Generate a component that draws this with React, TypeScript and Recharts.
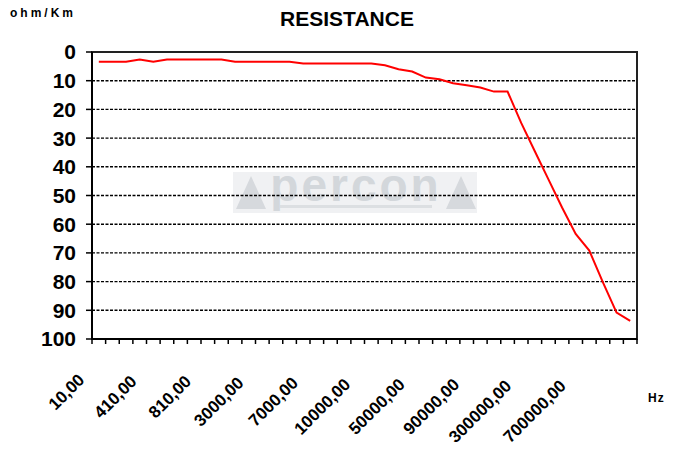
import React from 'react'
import { LineChart, Line, XAxis, YAxis, CartesianGrid, ReferenceArea } from 'recharts'

// frequency categories (Hz), only every 4th one is labelled on the axis
const freqs = [
  10, 110, 210, 310, 410, 510, 610, 710, 810, 910,
  1000, 2000, 3000, 4000, 5000, 6000, 7000, 8000, 9000, 9500,
  10000, 20000, 30000, 40000, 50000, 60000, 70000, 80000, 90000, 100000,
  150000, 200000, 300000, 400000, 500000, 600000, 700000, 800000, 900000, 1000000,
]

// resistance in ohm/Km
const resistance = [
  3.4, 3.4, 3.4, 2.6, 3.4, 2.6, 2.6, 2.6, 2.6, 2.6,
  3.4, 3.4, 3.4, 3.4, 3.4, 4.0, 4.0, 4.0, 4.0, 4.0,
  4.0, 4.6, 6.0, 6.8, 8.9, 9.5, 10.9, 11.6, 12.4, 13.8,
  13.8, 24.7, 34.6, 44.4, 54.2, 63.4, 69.2, 80.3, 90.8, 93.7,
]

const yTicks = [0, 10, 20, 30, 40, 50, 60, 70, 80, 90, 100]
const LABEL_EVERY = 4

const data = freqs.map((f, i) => ({ f, r: resistance[i] }))

const FONT = 'Liberation Sans, Arial, sans-serif'

const fmt = (v: number) => v.toFixed(2).replace('.', ',')

// tick marks sit on the category boundaries (Excel style), labels every 4th category
function FreqTick(props: any) {
  const { x, y, payload, index } = props
  const half = payload.offset || 0
  const last = index === freqs.length - 1
  let text = null
  if (index % LABEL_EVERY === 0) {
    const label = fmt(payload.value)
    const n = label.length
    const ax = x - 2 - 2.25 * n
    const ay = y + 42 + 1.5 * (n - 5)
    text = (
      <text
        x={ax}
        y={ay}
        textAnchor="end"
        transform={`rotate(-45, ${ax}, ${ay})`}
        fontFamily={FONT}
        fontWeight="bold"
        fontSize={17}
        fill="#000"
      >
        {label}
      </text>
    )
  }
  return (
    <g>
      <line x1={x - half} x2={x - half} y1={y} y2={y + 5} stroke="#000" strokeWidth={1.5} />
      {last && <line x1={x + half} x2={x + half} y1={y} y2={y + 5} stroke="#000" strokeWidth={1.5} />}
      {text}
    </g>
  )
}

function Watermark() {
  return (
    <g>
      <rect x={233} y={172} width={244} height={41} fill="#f0f1f3" />
      <polygon points="236,209 251,176 266,209" fill="#d6d9dd" />
      <polygon points="446,209 461,176 476,209" fill="#d6d9dd" />
      <text x={356} y={201} textAnchor="middle" fontFamily={FONT} fontWeight="bold" fontSize={46} fill="#d3d7db" letterSpacing={3}>
        percon
      </text>
      <rect x={280} y={205} width={152} height={3} fill="#dcdfe2" />
    </g>
  )
}

export default function App() {
  return (
    <div style={{ position: 'absolute', left: 0, top: 0, width: 677, height: 452, background: '#fff' }}>
      <svg width={677} height={452} style={{ position: 'absolute', left: 0, top: 0 }}>
        <text x={10} y={17} fontFamily={FONT} fontWeight="bold" fontSize={12} letterSpacing={3} fill="#000">
          ohm/Km
        </text>
        <text x={347} y={26} textAnchor="middle" fontFamily={FONT} fontWeight="bold" fontSize={21} fill="#000">
          RESISTANCE
        </text>
        <text x={648} y={402} fontFamily={FONT} fontWeight="bold" fontSize={12} letterSpacing={1} fill="#000">
          Hz
        </text>
        <Watermark />
      </svg>
      <div style={{ position: 'absolute', left: 0, top: 0 }}>
        <LineChart width={677} height={452} data={data} margin={{ top: 52, right: 40, bottom: 0, left: 0 }}>
          <XAxis
            xAxisId="labels"
            dataKey="f"
            type="category"
            scale="band"
            interval={0}
            axisLine={{ stroke: '#000', strokeWidth: 2 }}
            tickLine={false}
            tickSize={0}
            tickMargin={0}
            height={113}
            tick={<FreqTick />}
          />
          <YAxis
            yAxisId="v"
            type="number"
            domain={[0, 100]}
            reversed
            ticks={yTicks}
            interval={0}
            width={92}
            tickSize={6}
            tickMargin={10}
            axisLine={{ stroke: '#000', strokeWidth: 2 }}
            tickLine={{ stroke: '#000', strokeWidth: 1.5 }}
            tick={{ fill: '#000', fontFamily: FONT, fontWeight: 'bold', fontSize: 21 }}
          />
          <CartesianGrid
            xAxisId="labels"
            yAxisId="v"
            vertical={false}
            stroke="#000"
            strokeWidth={1.4}
            strokeDasharray="3 1.5"
          />
          <ReferenceArea
            xAxisId="labels"
            yAxisId="v"
            y1={0}
            y2={100}
            fill="none"
            stroke="#222"
            strokeWidth={2}
            ifOverflow="visible"
          />
          <Line
            xAxisId="labels"
            yAxisId="v"
            type="linear"
            dataKey="r"
            stroke="#ff0000"
            strokeWidth={2}
            dot={false}
            isAnimationActive={false}
          />
        </LineChart>
      </div>
    </div>
  )
}
